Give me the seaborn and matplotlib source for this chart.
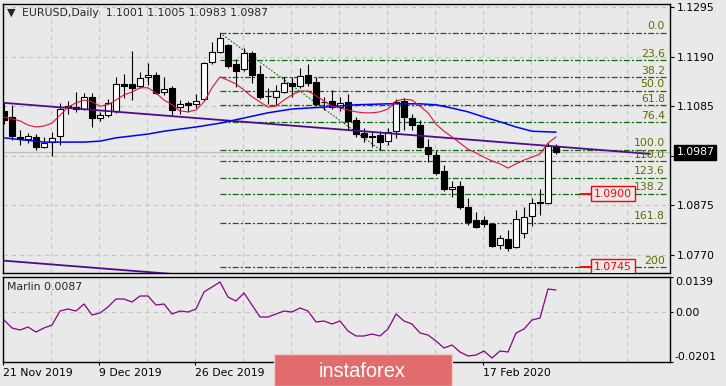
import numpy as np
import matplotlib
matplotlib.use("Agg")
import matplotlib.pyplot as plt
from matplotlib.patches import Rectangle
import seaborn as sns

# EURUSD daily candles
opens = [1.1075, 1.1062, 1.1020, 1.1016, 1.1020, 1.0999, 1.1009, 1.1022, 1.1085, 1.1083,
         1.1079, 1.1105, 1.1060, 1.1066, 1.1075, 1.1132, 1.1132, 1.1128, 1.1147, 1.1151,
         1.1115, 1.1124, 1.1083, 1.1092, 1.1090, 1.1100, 1.1179, 1.1200, 1.1215, 1.1174,
         1.1164, 1.1198, 1.1153, 1.1107, 1.1105, 1.1115, 1.1134, 1.1128, 1.1151, 1.1136,
         1.1094, 1.1096, 1.1083, 1.1094, 1.1056, 1.1028, 1.1022, 1.1024, 1.1011, 1.1032,
         1.1096, 1.1060, 1.1045, 1.0999, 1.0982, 1.0948, 1.0910, 1.0916, 1.0872, 1.0844,
         1.0844, 1.0836, 1.0791, 1.0804, 1.0787, 1.0817, 1.0853, 1.0880, 1.0880, 1.1001]
closes = [1.1056, 1.1022, 1.1016, 1.1022, 1.0999, 1.1007, 1.1018, 1.1079, 1.1084, 1.1079,
          1.1105, 1.1060, 1.1066, 1.1092, 1.1132, 1.1128, 1.1124, 1.1145, 1.1151, 1.1113,
          1.1121, 1.1077, 1.1090, 1.1088, 1.1096, 1.1176, 1.1200, 1.1229, 1.1170, 1.1159,
          1.1198, 1.1151, 1.1105, 1.1106, 1.1117, 1.1134, 1.1128, 1.1149, 1.1134, 1.1090,
          1.1093, 1.1083, 1.1092, 1.1054, 1.1026, 1.1020, 1.1020, 1.1009, 1.1030, 1.1094,
          1.1062, 1.1045, 1.0999, 1.0984, 1.0944, 1.0910, 1.0914, 1.0872, 1.0840, 1.0829,
          1.0836, 1.0789, 1.0806, 1.0785, 1.0846, 1.0850, 1.0880, 1.0882, 1.1001, 1.0987]
highs = [1.1094, 1.1088, 1.1035, 1.1028, 1.1026, 1.1020, 1.1030, 1.1092, 1.1096, 1.1115,
         1.1113, 1.1113, 1.1073, 1.1100, 1.1147, 1.1153, 1.1202, 1.1157, 1.1176, 1.1157,
         1.1147, 1.1128, 1.1098, 1.1096, 1.1111, 1.1179, 1.1221, 1.1240, 1.1217, 1.1185,
         1.1208, 1.1202, 1.1172, 1.1124, 1.1130, 1.1147, 1.1147, 1.1166, 1.1174, 1.1147,
         1.1105, 1.1119, 1.1105, 1.1111, 1.1062, 1.1039, 1.1032, 1.1032, 1.1039, 1.1100,
         1.1102, 1.1068, 1.1056, 1.1016, 1.0992, 1.0961, 1.0927, 1.0927, 1.0891, 1.0861,
         1.0853, 1.0838, 1.0812, 1.0823, 1.0865, 1.0872, 1.0891, 1.0910, 1.1007, 1.1005]
lows = [1.1047, 1.1013, 1.1003, 1.1007, 1.0992, 1.0996, 1.0980, 1.1003, 1.1068, 1.1073,
        1.1077, 1.1041, 1.1054, 1.1062, 1.1071, 1.1102, 1.1098, 1.1124, 1.1130, 1.1111,
        1.1109, 1.1066, 1.1068, 1.1073, 1.1081, 1.1096, 1.1174, 1.1198, 1.1166, 1.1126,
        1.1159, 1.1134, 1.1100, 1.1090, 1.1088, 1.1113, 1.1105, 1.1124, 1.1128, 1.1085,
        1.1077, 1.1079, 1.1075, 1.1035, 1.1020, 1.1009, 1.0999, 1.0993, 1.1003, 1.1018,
        1.1035, 1.1035, 1.0996, 1.0967, 1.0939, 1.0906, 1.0893, 1.0867, 1.0834, 1.0827,
        1.0829, 1.0787, 1.0783, 1.0779, 1.0785, 1.0806, 1.0831, 1.0855, 1.0878, 1.0983]

# fast moving average (red)
ma_fast = [1.1062, 1.1058, 1.1054, 1.1045, 1.1041, 1.1043, 1.1049, 1.1066, 1.1083, 1.1092,
           1.1098, 1.1094, 1.1085, 1.1088, 1.1098, 1.1109, 1.1115, 1.1124, 1.1124, 1.1113,
           1.1098, 1.1088, 1.1075, 1.1073, 1.1077, 1.1094, 1.1124, 1.1147, 1.1140, 1.1132,
           1.1119, 1.1105, 1.1094, 1.1083, 1.1085, 1.1098, 1.1109, 1.1117, 1.1117, 1.1107,
           1.1096, 1.1085, 1.1081, 1.1077, 1.1073, 1.1071, 1.1071, 1.1073, 1.1079, 1.1096,
           1.1100, 1.1098, 1.1085, 1.1071, 1.1047, 1.1032, 1.1020, 1.1007, 1.0994, 1.0986,
           1.0977, 1.0969, 1.0963, 1.0954, 1.0963, 1.0971, 1.0977, 1.0984, 1.1007, 1.1020]

# slow moving average (blue), read at these bars
ma_slow_bars = [0, 5, 10, 12, 14, 16, 18, 20, 24, 27, 30, 33, 36, 40, 44, 48, 52, 54, 56, 58, 60, 62, 64, 66, 69]
ma_slow = [1.1018, 1.1009, 1.1009, 1.1011, 1.1018, 1.1022, 1.1026, 1.1032, 1.1041, 1.1049,
           1.1060, 1.1071, 1.1079, 1.1083, 1.1088, 1.1090, 1.1090, 1.1088, 1.1081, 1.1073,
           1.1062, 1.1052, 1.1041, 1.1032, 1.1030]

# purple channel lines
trend_bars = [0, 80.75]
trend_upper = [1.1092, 1.0984]
trend_lower = [1.0758, 1.0650]

# Fibonacci grid from the 31 Dec high to the 30 Jan low
fib_start, fib_end = 27, 47
fib_labels = ["0.0", "23.6", "38.2", "50.0", "61.8", "76.4", "100.0", "110.0", "123.6", "138.2", "161.8", "200"]
fib_prices = [1.1240, 1.1182, 1.1146, 1.1117, 1.1087, 1.1051, 1.0993, 1.0968, 1.0933, 1.0899, 1.0838, 1.0744]

target_prices = [1.0900, 1.0745]
last_price = 1.0987

# Marlin oscillator
marlin = [-0.0033, -0.0065, -0.0073, -0.0061, -0.0081, -0.0065, -0.0053, 0.0003, 0.0011, 0.0003,
          0.0031, -0.0013, -0.0005, 0.0019, 0.0051, 0.0051, 0.0039, 0.0063, 0.0063, 0.0027,
          0.0031, -0.0009, 0.0003, -0.0001, 0.0011, 0.0079, 0.0099, 0.0119, 0.0059, 0.0043,
          0.0075, 0.0027, -0.0021, -0.0021, -0.0009, 0.0003, -0.0001, 0.0015, 0.0003, -0.0041,
          -0.0037, -0.0049, -0.0037, -0.0077, -0.0097, -0.0097, -0.0089, -0.0097, -0.0069, -0.0009,
          -0.0037, -0.0049, -0.0085, -0.0093, -0.0117, -0.0145, -0.0133, -0.0161, -0.0177, -0.0173,
          -0.0157, -0.0185, -0.0157, -0.0161, -0.0085, -0.0069, -0.0033, -0.0025, 0.0091, 0.0087]

# visible date labels (the two in between sit under the logo)
date_bars = [0, 12, 24, 60]
date_labels = ["21 Nov 2019", "9 Dec 2019", "26 Dec 2019", "17 Feb 2020"]
price_ticks = [1.1295, 1.1190, 1.1085, 1.0980, 1.0875, 1.0770]
price_tick_labels = ["1.1295", "1.1190", "1.1085", "", "1.0875", "1.0770"]

bg = "#e9e9e9"
grid_c = "#c4c4c4"
fib_c = "#0b6b0b"
fib_text_c = "#5a6e00"

sns.set_theme(style="ticks")
plt.rcParams.update({
    "font.family": ["DejaVu Sans"],
    "font.size": 7.8,
    "axes.facecolor": bg,
    "figure.facecolor": bg,
    "axes.edgecolor": "black",
    "axes.linewidth": 1.0,
    "xtick.labelsize": 7.8,
    "ytick.labelsize": 7.8,
    "xtick.color": "black",
    "ytick.color": "black",
    "lines.scale_dashes": False,
})

fig = plt.figure(figsize=(7.26, 3.86), dpi=100)
ax = fig.add_axes([3 / 726, 113 / 386, 667 / 726, 269 / 386])
ax2 = fig.add_axes([3 / 726, 24 / 386, 667 / 726, 85 / 386], sharex=ax)

bars = np.arange(len(opens))
o = np.array(opens)
c = np.array(closes)

# ---- main price panel ----
ax.axhline(last_price, color="#c0c0c0", lw=0.9, zorder=1)

ax.hlines(fib_prices, fib_start, 83.0, colors=fib_c, linestyles=[(0, (4.3, 1.5, 1.5, 1.5))],
          lw=0.9, zorder=2)
for lab, p in zip(fib_labels, fib_prices):
    ax.annotate(lab, xy=(82.6, p), xytext=(0, 1.2), textcoords="offset points",
                ha="right", va="bottom", color=fib_text_c, fontsize=7.8, zorder=6)
ax.plot([fib_start, fib_end], [fib_prices[0], fib_prices[6]], color=fib_c,
        ls=(0, (1.2, 1.2)), lw=0.8, zorder=2)

ax.vlines(bars, lows, highs, color="black", lw=0.8, zorder=3)
ax.bar(bars, np.abs(c - o), bottom=np.minimum(o, c), width=0.7,
       color=np.where(c >= o, "white", "black"), edgecolor="black", lw=0.8, zorder=4)

sns.lineplot(x=trend_bars, y=trend_upper, ax=ax, color="#500a8a", lw=1.3, zorder=5)
sns.lineplot(x=trend_bars, y=trend_lower, ax=ax, color="#500a8a", lw=1.3, zorder=5)
sns.lineplot(x=ma_slow_bars, y=ma_slow, ax=ax, color="#0000ff", lw=1.1, zorder=5)
sns.lineplot(x=bars, y=ma_fast, ax=ax, color="crimson", lw=0.8, zorder=5)

for p in target_prices:
    ax.plot([72.0, 73.4], [p, p], color="red", lw=1.3, zorder=6)
    ax.text(73.75, p, f"{p:.4f}", color="red", ha="left", va="center", fontsize=7.8,
            zorder=7, clip_on=True,
            bbox=dict(boxstyle="square,pad=0.25", fc=bg, ec="red", lw=1))

ax.annotate(f"{last_price:.4f}", xy=(1, last_price), xycoords=("axes fraction", "data"),
            xytext=(4.6, 0), textcoords="offset points", ha="left", va="center",
            color="white", fontsize=7.8, zorder=10, annotation_clip=False,
            bbox=dict(boxstyle="square,pad=0.2", fc="black", ec="black"))

ax.text(0.012, 0.968, "\u25bc", transform=ax.transAxes, ha="center", va="center", fontsize=8)
ax.text(0.0285, 0.968, "EURUSD,Daily  1.1001 1.1005 1.0983 1.0987", transform=ax.transAxes,
        ha="left", va="center", fontsize=7.8)

ax.set_ylim(1.07319, 1.13013)
ax.yaxis.tick_right()
ax.set_yticks(price_ticks, labels=price_tick_labels)
ax.tick_params(axis="y", length=3, width=0.8, pad=2)
ax.tick_params(axis="x", which="both", bottom=False, labelbottom=False)
ax.set_xlabel("")
ax.set_ylabel("")

# ---- Marlin panel ----
sns.lineplot(x=bars, y=marlin, ax=ax2, color="#880088", lw=0.9)
ax2.text(0.006, 0.88, "Marlin 0.0087", transform=ax2.transAxes, ha="left", va="center", fontsize=7.8)
ax2.set_ylim(-0.0201, 0.0139)
ax2.yaxis.tick_right()
ax2.set_yticks([-0.0201, 0.0, 0.0139], labels=["-0.0201", "0.00", "0.0139"])
yl = ax2.get_yticklabels()
yl[0].set_va("bottom")
yl[2].set_va("top")
ax2.tick_params(axis="y", length=2, width=0.8, pad=1.5)
ax2.set_xlabel("")
ax2.set_ylabel("")

ax2.set_xticks(np.array(date_bars) - 0.125, labels=date_labels)
ax2.set_xticks(np.arange(0, 84, 6) - 0.125, minor=True)
for t in ax2.get_xticklabels():
    t.set_ha("left")
ax2.tick_params(axis="x", which="major", length=2.5, width=0.8, pad=2)
ax2.tick_params(axis="x", which="minor", length=0)
ax2.set_xlim(-0.125, 83.25)

for a in (ax, ax2):
    a.grid(True, axis="x", which="both", color=grid_c, ls=(0, (3, 3)), lw=0.8)
    a.grid(True, axis="y", which="major", color=grid_c, ls=(0, (3, 3)), lw=0.8)
    a.set_axisbelow(True)
    for s in a.spines.values():
        s.set_visible(True)
        s.set_color("black")

# instaforex badge
fig.add_artist(Rectangle((274 / 726, 0), 178 / 726, 32 / 386, transform=fig.transFigure,
                         fc="#e06c6e", ec="#f0cccc", lw=1, zorder=20))
fig.text(362.5 / 726, 9 / 386, "instaforex", color="white", fontsize=14.4,
         family=["Liberation Sans", "DejaVu Sans"], ha="center", va="baseline", zorder=21)

fig.savefig("out.png", dpi=100)
